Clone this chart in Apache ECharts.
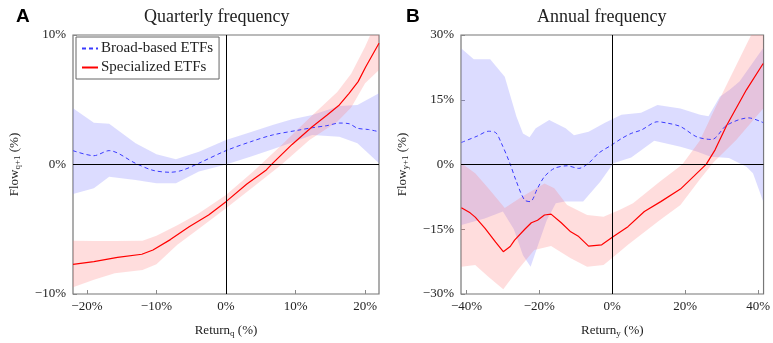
<!DOCTYPE html>
<html lang="en">
<head>
    <meta charset="UTF-8">
    <title>ETF flows vs. returns</title>
    <script src="https://cdn.jsdelivr.net/npm/echarts@6/dist/echarts.min.js"></script>
    <style>
        body, html {
            margin: 0;
            background: #fff;
        }
        #main {
            width: 773px;
            height: 343px;
        }
    </style>
</head>
<body>
<div id="main"></div>

<script>
    // Panel A - quarterly frequency (return %, flow %)
    const qBroadRet  = [-22, -19, -16.8, -13, -10.5, -8, -6.3, -3.9, 0, 3.5, 6.7, 10.5, 12.4, 14.5, 16.3, 17.7, 18.9, 20.5, 22];
    const qBroadFlow = [1.07, 0.68, 1.07, 0.09, -0.45, -0.6, -0.45, 0.1, 1.07, 1.75, 2.28, 2.66, 2.84, 3.0, 3.2, 3.15, 2.8, 2.7, 2.53];
    const qBroadBandRet = [-22, -19, -16.8, -13, -10, -7.2, -3.9, 0, 3.5, 6.7, 9.5, 12.4, 16.3, 18.9, 22];
    const qBroadLow     = [-2.28, -1.84, -0.94, -1.2, -1.45, -1.45, -0.55, 0.0, 0.6, 1.17, 1.7, 2.28, 2.15, 1.64, 0.1];
    const qBroadHigh    = [4.34, 3.23, 3.15, 1.64, 0.8, 0.4, 0.99, 1.89, 2.5, 3.05, 3.5, 3.82, 4.52, 4.6, 5.5];

    const qSpecRet  = [-22, -19, -15.6, -12.1, -10.5, -8, -5.3, -2.5, 0, 3, 5.8, 6.7, 9.5, 12.4, 14.5, 16.3, 17.7, 19, 20.1, 22];
    const qSpecFlow = [-7.71, -7.5, -7.17, -6.93, -6.6, -5.8, -4.8, -3.9, -2.87, -1.5, -0.42, 0.09, 1.55, 2.92, 3.8, 4.6, 5.5, 6.4, 7.55, 9.36];
    const qSpecBandRet = [-22, -19, -16, -12, -10, -7, -4, 0, 4, 8, 12, 16, 18, 20, 22];
    const qSpecLow     = [-9.48, -8.9, -8.4, -8.15, -7.7, -6.2, -5.0, -3.38, -1.7, 0.0, 1.9, 3.3, 4.4, 6.27, 7.3];
    const qSpecHigh    = [-5.88, -5.9, -5.9, -5.88, -5.5, -4.7, -3.8, -2.36, -0.5, 1.5, 3.6, 5.6, 7.0, 9.1, 11.5];

    // Panel B - annual frequency
    const yBroadRet  = [-41.4, -37, -34, -32, -30.4, -28.1, -26.5, -24.1, -22.5, -20.5, -18.6, -15.9, -12.4, -9.2, -6.5, -3.8, -0.2, 2.5, 5.2, 8, 12.4, 15, 18.7, 23.2, 27.3, 31.4, 37.4, 41.4];
    const yBroadFlow = [5.1, 6.6, 7.7, 7.4, 4.9, 0.3, -3.5, -8.2, -8.6, -5.5, -2.8, -0.9, -0.3, -0.9, 0.3, 2.6, 4.5, 6.0, 7.2, 8.0, 9.9, 9.6, 8.8, 6.4, 5.8, 9.1, 10.8, 9.7];
    const yBroadBandHiRet = [-41.4, -38, -33.5, -29.5, -26.3, -24.5, -22.7, -21, -17.3, -12.8, -10.5, -6.5, -2, 2.5, 7.9, 12.4, 18.7, 24.1, 26.4, 29.5, 32.2, 34.9, 41.4];
    const yBroadHigh      = [26.9, 24.4, 24.4, 20.3, 11.1, 7.2, 6.3, 8.4, 10.3, 8.4, 6.8, 7.6, 9.7, 11.5, 12, 13.8, 13, 11.5, 11.2, 15.7, 17.3, 19.2, 27];
    const yBroadBandLoRet = [-41.4, -35, -30, -27, -24.5, -22.4, -20.5, -18, -15.5, -13, -8, -3.3, 0.3, 5.2, 11.5, 18.7, 23.2, 27, 32, 36.8, 38.6, 41.4];
    const yBroadLow       = [-14, -12.5, -10.9, -15, -21, -23.7, -19, -13, -9, -8.6, -8.6, -4, 0.3, 1.6, 5.5, 4.1, 3.0, 1.8, 1.5, -0.5, -2.0, -8.6];

    const ySpecRet  = [-41.4, -39, -37.6, -34.9, -32, -29.9, -28, -26.8, -24, -22.2, -20.5, -18.6, -16.8, -14, -11.4, -9.2, -6.5, -2.9, 0.3, 4.3, 8.8, 13.3, 18.7, 22.4, 25.8, 28.2, 31.4, 36.8, 41.4];
    const ySpecFlow = [-10.0, -11.2, -12.2, -14.8, -18, -20.2, -19, -17.5, -15, -13.5, -12.9, -11.7, -11.5, -13.5, -15.6, -16.7, -18.9, -18.6, -16.7, -14.4, -10.9, -8.6, -5.7, -2.7, 0.1, 3.4, 9.1, 17.3, 23.4];
    const ySpecBandHiRet = [-41.4, -37.6, -34, -29.5, -24.9, -18.6, -15.9, -12.4, -6.9, -2.4, 2.1, 5.7, 13, 19.2, 24, 28.4, 38.1, 41.4];
    const ySpecHigh      = [0.3, -2.0, -5.5, -10.1, -7.5, -4.4, -5.5, -9.4, -11.7, -12.1, -10.5, -9.0, -4.0, 0, 5.5, 13.4, 30, 35];
    const ySpecBandLoRet = [-41.4, -37.6, -34, -29.9, -25.9, -21.4, -16.8, -11.4, -6.9, -2.4, 0.3, 4.3, 13, 18.7, 24, 27.8, 34, 41.4];
    const ySpecLow       = [-23.7, -23.3, -26, -28.9, -24.4, -19.8, -18.9, -21.7, -23.7, -23.3, -21.4, -18.6, -12.9, -9.4, -3.5, 0.5, 5.7, 13];

    const qTicks = [-20, -10, 0, 10, 20];
    const yTicks = [-40, -20, 0, 20, 40];

    const serif = 'Liberation Serif';
    const blueLine = '#3a3aff';
    const redLine = '#ff0000';
    const blueFill = 'rgba(140,140,255,0.3)';
    const redFill = 'rgba(255,120,120,0.25)';

    function zip(a, b) {
        return a.map((v, i) => [v, b[i]]);
    }

    function pct(v) {
        return (v < 0 ? '\u2212' + (-v) : v) + '%';
    }

    // polygon between two edges, drawn once with the axes' coordinates
    function band(idx, hiRet, hi, loRet, lo, color) {
        return {
            type: 'custom',
            xAxisIndex: idx,
            yAxisIndex: idx,
            clip: true,
            silent: true,
            z: 1,
            data: zip(hiRet, hi),
            renderItem: function (params, api) {
                if (params.dataIndex !== 0) return null;
                let pts = [];
                for (let i = 0; i < hiRet.length; i++) pts.push(api.coord([hiRet[i], hi[i]]));
                for (let i = loRet.length - 1; i >= 0; i--) pts.push(api.coord([loRet[i], lo[i]]));
                return { type: 'polygon', shape: { points: pts }, style: { fill: color } };
            }
        };
    }

    const richSub = {
        a: { fontFamily: serif, fontSize: 13, color: '#222' },
        b: { fontFamily: serif, fontSize: 9, color: '#222', padding: [6, 0, 0, 0] }
    };

    function xAxis(idx, min, max, ticks, sub) {
        return {
            type: 'value', gridIndex: idx, min: min, max: max,
            name: '{a|Return}{b|' + sub + '}{a| (%)}',
            nameLocation: 'middle', nameGap: 29,
            nameTextStyle: { rich: richSub },
            axisLine: { show: false, onZero: false },
            splitLine: { show: false },
            axisTick: { show: true, inside: true, length: 4, customValues: ticks, lineStyle: { color: '#888' } },
            axisLabel: { customValues: ticks, formatter: pct, fontFamily: serif, fontSize: 13, color: '#222', margin: 6 }
        };
    }

    function yAxis(idx, lim, step, sub) {
        return {
            type: 'value', gridIndex: idx, min: -lim, max: lim, interval: step,
            name: '{a|Flow}{b|' + sub + '}{a| (%)}',
            nameLocation: 'middle', nameGap: 51, nameRotate: 90,
            nameTextStyle: { rich: richSub },
            axisLine: { show: false, onZero: false },
            splitLine: { show: false },
            axisTick: { show: true, inside: true, length: 4, lineStyle: { color: '#888' } },
            axisLabel: { formatter: pct, fontFamily: serif, fontSize: 13, color: '#222', margin: 7 }
        };
    }

    const zeroLines = {
        silent: true, symbol: 'none', animation: false,
        label: { show: false },
        lineStyle: { color: '#000', width: 1, type: 'solid' },
        data: [{ xAxis: 0 }, { yAxis: 0 }]
    };

    var chart = echarts.init(document.getElementById('main'));

    var option = {
        animation: false,
        title: [
            { text: 'A', left: 11, top: 2, textStyle: { fontFamily: 'Liberation Sans', fontWeight: 'bold', fontSize: 19, color: '#000' } },
            { text: 'B', left: 401, top: 2, textStyle: { fontFamily: 'Liberation Sans', fontWeight: 'bold', fontSize: 19, color: '#000' } },
            { text: 'Quarterly frequency', left: 139, top: 3, textStyle: { fontFamily: serif, fontWeight: 'normal', fontSize: 18, color: '#222' } },
            { text: 'Annual frequency', left: 532, top: 3, textStyle: { fontFamily: serif, fontWeight: 'normal', fontSize: 18, color: '#222' } }
        ],
        legend: {
            data: ['Broad-based ETFs', 'Specialized ETFs'],
            orient: 'vertical',
            left: 76, top: 37,
            padding: [4, 6, 4, 5],
            itemGap: 4,
            itemWidth: 16, itemHeight: 13,
            itemStyle: { opacity: 0 },
            backgroundColor: '#fff',
            borderColor: '#666', borderWidth: 1,
            textStyle: { fontFamily: serif, fontSize: 15, color: '#222', padding: [0, 0, 0, -2] }
        },
        grid: [
            { left: 73, top: 35, width: 306, height: 259, show: true, borderColor: '#777', borderWidth: 1.2, backgroundColor: 'transparent' },
            { left: 461, top: 35, width: 306, height: 259, show: true, borderColor: '#777', borderWidth: 1.2, backgroundColor: 'transparent' }
        ],
        xAxis: [
            xAxis(0, -22, 22, qTicks, 'q'),
            xAxis(1, -41.5, 41.5, yTicks, 'y')
        ],
        yAxis: [
            yAxis(0, 10, 10, 'q+1'),
            yAxis(1, 30, 15, 'y+1')
        ],
        series: [
            band(0, qBroadBandRet, qBroadHigh, qBroadBandRet, qBroadLow, blueFill),
            band(0, qSpecBandRet, qSpecHigh, qSpecBandRet, qSpecLow, redFill),
            band(1, yBroadBandHiRet, yBroadHigh, yBroadBandLoRet, yBroadLow, blueFill),
            band(1, ySpecBandHiRet, ySpecHigh, ySpecBandLoRet, ySpecLow, redFill),
            {
                name: 'Broad-based ETFs', type: 'line', xAxisIndex: 0, yAxisIndex: 0,
                data: zip(qBroadRet, qBroadFlow), symbol: 'none', smooth: 0.3, z: 3,
                lineStyle: { color: blueLine, width: 1, type: [4, 3] }, itemStyle: { color: blueLine },
                markLine: zeroLines
            },
            {
                name: 'Specialized ETFs', type: 'line', xAxisIndex: 0, yAxisIndex: 0,
                data: zip(qSpecRet, qSpecFlow), symbol: 'none', z: 4,
                lineStyle: { color: redLine, width: 1.2 }, itemStyle: { color: redLine }
            },
            {
                name: 'Broad-based ETFs', type: 'line', xAxisIndex: 1, yAxisIndex: 1,
                data: zip(yBroadRet, yBroadFlow), symbol: 'none', smooth: 0.3, z: 3,
                lineStyle: { color: blueLine, width: 1, type: [4, 3] }, itemStyle: { color: blueLine },
                markLine: zeroLines
            },
            {
                name: 'Specialized ETFs', type: 'line', xAxisIndex: 1, yAxisIndex: 1,
                data: zip(ySpecRet, ySpecFlow), symbol: 'none', z: 4, clip: true,
                lineStyle: { color: redLine, width: 1.2 }, itemStyle: { color: redLine }
            }
        ]
    };

    chart.setOption(option);
</script>
</body>
</html>
